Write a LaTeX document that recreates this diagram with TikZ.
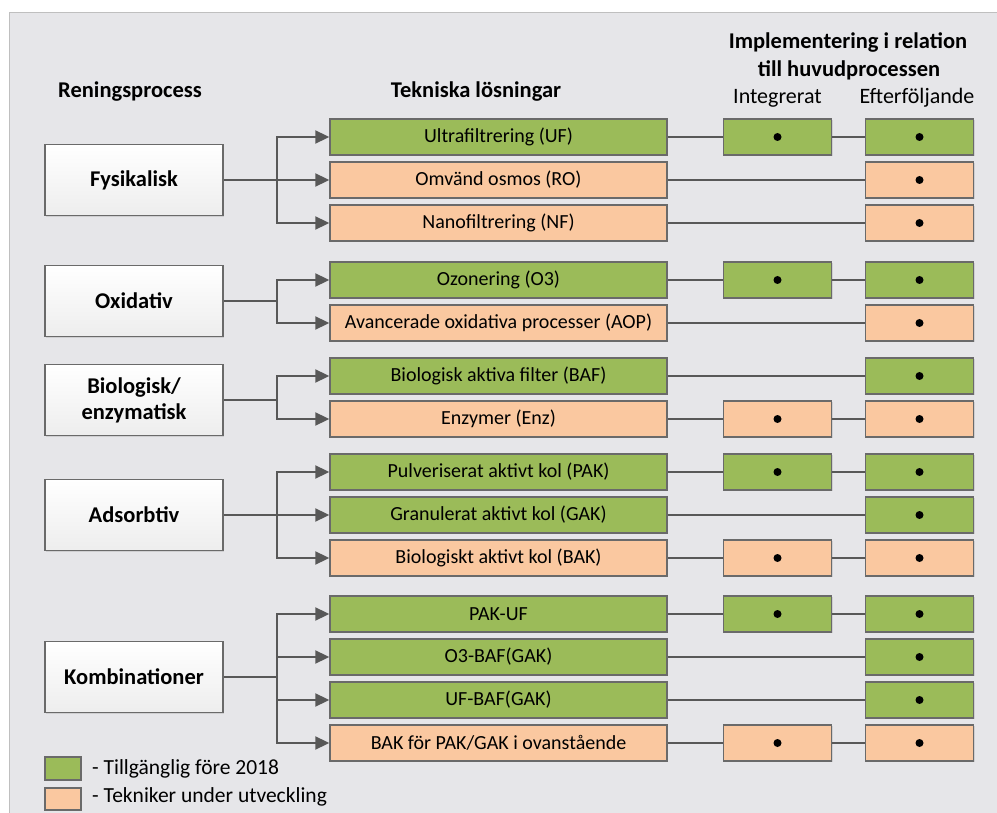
\documentclass[tikz,border=0pt]{standalone}
\usepackage{fontspec}
\setmainfont{Carlito}
\usetikzlibrary{positioning,arrows.meta,shadows}
\definecolor{panelbg}{HTML}{E6E6E9}
\definecolor{availgreen}{HTML}{9BBB59}
\definecolor{develpeach}{HTML}{FAC8A0}
\definecolor{linegray}{HTML}{585858}
\definecolor{boxedge}{HTML}{6A6A6A}

\tikzset{
  boxshadow/.style={drop shadow={shadow xshift=1.2pt, shadow yshift=-1.2pt, opacity=0.22}},
  procbox/.style={draw=boxedge, line width=1.4pt, top color=white, bottom color=black!7,
    minimum width=178pt, minimum height=71pt, align=center, inner sep=0pt,
    font=\fontsize{22.5}{26}\selectfont\bfseries, boxshadow},
  techbox/.style={draw=boxedge, line width=1.4pt, minimum width=337pt, minimum height=36pt,
    inner sep=0pt, font=\fontsize{20}{22}\selectfont, boxshadow},
  impbox/.style={draw=boxedge, line width=1.4pt, minimum width=108pt, minimum height=36pt,
    inner sep=0pt, boxshadow,
    path picture={\fill[black] (path picture bounding box.center) circle (4pt);}},
  avail/.style={fill=availgreen},
  devel/.style={fill=develpeach},
  stem/.style={draw=linegray, line width=2pt},
  branch/.style={draw=linegray, line width=2pt, -{Triangle[length=14pt,width=13pt]}},
  link/.style={draw=linegray, line width=1.5pt},
  headtxt/.style={font=\fontsize{22.5}{26}\selectfont\bfseries},
  coltxt/.style={font=\fontsize{22}{26}\selectfont},
  legtxt/.style={font=\fontsize{21.5}{24}\selectfont, anchor=west}
}

\begin{document}
\begin{tikzpicture}[x=1pt, y=-1pt]
  \useasboundingbox (0,0) rectangle (997,813);
  % panel
  \fill[panelbg] (9,13) rectangle (997,813);
  \draw[black!25, line width=1pt] (9,813) -- (9,13) -- (997,13);

  % headings
  \node[headtxt] (hproc) at (130,92) {Reningsprocess};
  \node[headtxt] (htech) at (476,92) {Tekniska lösningar};
  \node[headtxt] (himp1) at (848,42) {Implementering i relation};
  \node[headtxt] (himp2) at (849,70) {till huvudprocessen};
  \node[coltxt] (hint) at (777.5,98) {Integrerat};
  \node[coltxt] (heft) at (917,98) {Efterföljande};

  % Fysikalisk
  \node[procbox] (fys) at (134,180) {Fysikalisk};
  \node[techbox, avail] (uf) at (498.5,137) {Ultrafiltrering (UF)};
  \node[techbox, devel] (ro) at (498.5,180) {Omvänd osmos (RO)};
  \node[techbox, devel] (nf) at (498.5,223) {Nanofiltrering (NF)};
  \coordinate (fysj) at (277,180);
  \draw[stem] (fys) -- (fysj);
  \draw[branch] (fysj) |- (uf.west);
  \draw[branch] (fysj) -- (ro.west);
  \draw[branch] (fysj) |- (nf.west);

  % Oxidativ
  \node[procbox] (oxi) at (134,301) {Oxidativ};
  \node[techbox, avail] (ozon) at (498.5,280) {Ozonering (O3)};
  \node[techbox, devel] (aop) at (498.5,323) {Avancerade oxidativa processer (AOP)};
  \coordinate (oxij) at (277,301);
  \draw[stem] (oxi) -- (oxij);
  \draw[branch] (oxij) |- (ozon.west);
  \draw[branch] (oxij) |- (aop.west);

  % Biologisk/enzymatisk
  \node[procbox] (bio) at (134,400) {Biologisk/\\enzymatisk};
  \node[techbox, avail] (baf) at (498.5,376) {Biologisk aktiva filter (BAF)};
  \node[techbox, devel] (enz) at (498.5,419) {Enzymer (Enz)};
  \coordinate (bioj) at (277,400);
  \draw[stem] (bio) -- (bioj);
  \draw[branch] (bioj) |- (baf.west);
  \draw[branch] (bioj) |- (enz.west);

  % Adsorbtiv
  \node[procbox] (ads) at (134,515) {Adsorbtiv};
  \node[techbox, avail] (pak) at (498.5,472) {Pulveriserat aktivt kol (PAK)};
  \node[techbox, avail] (gak) at (498.5,515) {Granulerat aktivt kol (GAK)};
  \node[techbox, devel] (bak) at (498.5,558) {Biologiskt aktivt kol (BAK)};
  \coordinate (adsj) at (277,515);
  \draw[stem] (ads) -- (adsj);
  \draw[branch] (adsj) |- (pak.west);
  \draw[branch] (adsj) -- (gak.west);
  \draw[branch] (adsj) |- (bak.west);

  % Kombinationer
  \node[procbox] (komb) at (134,677) {Kombinationer};
  \node[techbox, avail] (pakuf) at (498.5,614) {PAK-UF};
  \node[techbox, avail] (ozbaf) at (498.5,657) {O3-BAF(GAK)};
  \node[techbox, avail] (ufbaf) at (498.5,700) {UF-BAF(GAK)};
  \node[techbox, devel] (bakpg) at (498.5,743) {BAK för PAK/GAK i ovanstående};
  \coordinate (kombj) at (277,677);
  \draw[stem] (komb) -- (kombj);
  \draw[branch] (kombj) |- (pakuf.west);
  \draw[branch] (kombj) |- (ozbaf.west);
  \draw[branch] (kombj) |- (ufbaf.west);
  \draw[branch] (kombj) |- (bakpg.west);

  % Integrerat / Efterföljande
  \node[impbox, avail] (uf-int) at (777.5,137) {};
  \node[impbox, avail] (uf-eft) at (919.5,137) {};
  \node[impbox, devel] (ro-eft) at (919.5,180) {};
  \node[impbox, devel] (nf-eft) at (919.5,223) {};
  \node[impbox, avail] (ozon-int) at (777.5,280) {};
  \node[impbox, avail] (ozon-eft) at (919.5,280) {};
  \node[impbox, devel] (aop-eft) at (919.5,323) {};
  \node[impbox, avail] (baf-eft) at (919.5,376) {};
  \node[impbox, devel] (enz-int) at (777.5,419) {};
  \node[impbox, devel] (enz-eft) at (919.5,419) {};
  \node[impbox, avail] (pak-int) at (777.5,472) {};
  \node[impbox, avail] (pak-eft) at (919.5,472) {};
  \node[impbox, avail] (gak-eft) at (919.5,515) {};
  \node[impbox, devel] (bak-int) at (777.5,558) {};
  \node[impbox, devel] (bak-eft) at (919.5,558) {};
  \node[impbox, avail] (pakuf-int) at (777.5,614) {};
  \node[impbox, avail] (pakuf-eft) at (919.5,614) {};
  \node[impbox, avail] (ozbaf-eft) at (919.5,657) {};
  \node[impbox, avail] (ufbaf-eft) at (919.5,700) {};
  \node[impbox, devel] (bakpg-int) at (777.5,743) {};
  \node[impbox, devel] (bakpg-eft) at (919.5,743) {};

  \draw[link] (uf) -- (uf-int);
  \draw[link] (uf-int) -- (uf-eft);
  \draw[link] (ro) -- (ro-eft);
  \draw[link] (nf) -- (nf-eft);
  \draw[link] (ozon) -- (ozon-int);
  \draw[link] (ozon-int) -- (ozon-eft);
  \draw[link] (aop) -- (aop-eft);
  \draw[link] (baf) -- (baf-eft);
  \draw[link] (enz) -- (enz-int);
  \draw[link] (enz-int) -- (enz-eft);
  \draw[link] (pak) -- (pak-int);
  \draw[link] (pak-int) -- (pak-eft);
  \draw[link] (gak) -- (gak-eft);
  \draw[link] (bak) -- (bak-int);
  \draw[link] (bak-int) -- (bak-eft);
  \draw[link] (pakuf) -- (pakuf-int);
  \draw[link] (pakuf-int) -- (pakuf-eft);
  \draw[link] (ozbaf) -- (ozbaf-eft);
  \draw[link] (ufbaf) -- (ufbaf-eft);
  \draw[link] (bakpg) -- (bakpg-int);
  \draw[link] (bakpg-int) -- (bakpg-eft);

  % legend
  \node[draw=boxedge, line width=1.4pt, fill=availgreen, minimum width=36pt, minimum height=23pt] (leg-av) at (63,768.5) {};
  \node[draw=boxedge, line width=1.4pt, fill=develpeach, minimum width=36pt, minimum height=22pt] (leg-dev) at (63,799) {};
  \node[legtxt, right=7pt of leg-av] (leg-avtxt) {- Tillgänglig före 2018};
  \node[legtxt, right=7pt of leg-dev, yshift=2pt] (leg-devtxt) {- Tekniker under utveckling};
\end{tikzpicture}
\end{document}
